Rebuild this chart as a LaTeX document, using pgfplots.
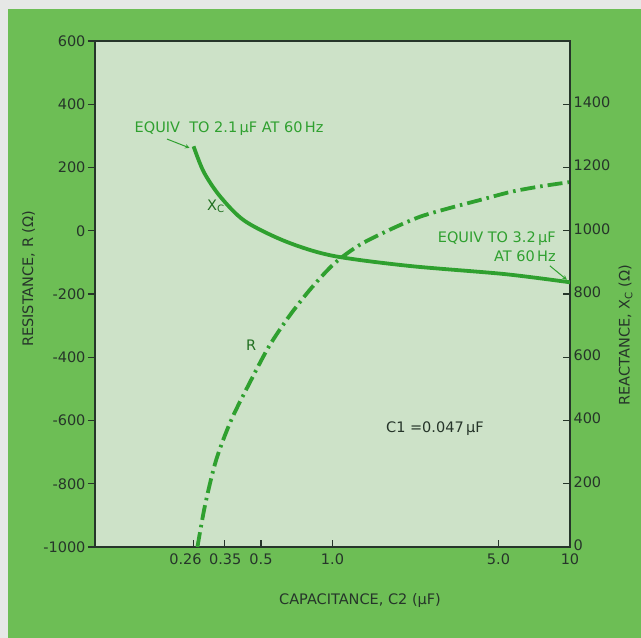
\documentclass[border=0pt]{standalone}
\usepackage{pgfplots}
\pgfplotsset{compat=1.18}
\usepackage{fontspec}
\setmainfont{DejaVu Sans}
\definecolor{outergreen}{HTML}{6DBE55}
\definecolor{plotbg}{HTML}{CDE2C8}
\definecolor{curve}{HTML}{2FA02F}
\definecolor{txt}{HTML}{26352A}
\definecolor{edge}{HTML}{E6E8E6}
\begin{document}
\begin{tikzpicture}[font=\fontsize{14.5}{17}\selectfont\color{txt}]
\path[use as bounding box] (-95pt,-91pt) rectangle (546pt,547pt);
\fill[edge] (-95pt,-91pt) rectangle (546pt,547pt);
\fill[outergreen] (-87pt,-91pt) rectangle (546pt,538pt);
\begin{axis}[
  at={(0pt,0pt)}, anchor=south west,
  scale only axis, width=475pt, height=506pt,
  xmode=log, xmin=0.1, xmax=10,
  ymin=-1000, ymax=600,
  axis background/.style={fill=plotbg},
  axis line style={txt, line width=1.4pt},
  tick pos=left,
  xtick={0.26,0.35,0.5,1,5,10},
  xticklabels={\hspace*{-16pt}0.26,\hspace*{2pt}0.35,0.5,1.0,5.0,10},
  minor xtick={},
  ytick={-1000,-800,-600,-400,-200,0,200,400,600},
  yticklabels={-1000,-800,-600,-400,-200,0,200,400,600},
  xtick align=inside, ytick align=outside,
  major tick length=7pt,
  tick style={txt, line width=1.2pt},
  xticklabel style={yshift=-3pt},
  yticklabel style={xshift=1pt},
  /pgf/number format/assume math mode=true,
  /pgf/number format/1000 sep={},
  xlabel={CAPACITANCE, C2 (μF)},
  xlabel style={at={(axis description cs:0.558,-0.105)}, anchor=center},
  ylabel={RESISTANCE, R (Ω)},
  ylabel style={at={(axis description cs:-0.14,0.53)}, anchor=center},
  clip=false,
]
\addplot[curve, line width=3.8pt, smooth, tension=0.5, dash pattern=on 15pt off 5pt on 2.5pt off 5pt] coordinates {
(0.270,-1000) (0.291,-866) (0.324,-724) (0.375,-598) (0.455,-471) (0.542,-364)
(0.659,-269) (0.815,-181) (1.02,-103) (1.30,-45) (1.74,3) (2.33,44) (3.12,72)
(4.17,97) (5.64,123) (7.47,140) (10,154)
};
\node[text=curve] at (axis cs:0.367,322) {EQUIV\ \ TO 2.1\,μF AT 60\,Hz};
\draw[curve, line width=1pt, -stealth] (axis cs:0.201,290) -- (axis cs:0.25,262);
\node[text=curve, align=right, anchor=east, inner sep=0pt] at (axis cs:8.73,-51) {EQUIV TO 3.2\,μF\\[2pt]AT 60\,Hz};
\draw[curve, line width=1pt, -stealth] (axis cs:8.23,-111) -- (axis cs:9.7,-155);
\node[text=curve!70!black] at (axis cs:0.323,77) {X\textsubscript{C}};
\node[text=curve!70!black] at (axis cs:0.455,-362) {R};
\node at (axis cs:2.70,-627) {C1 =0.047\,μF};
\end{axis}
\begin{axis}[
  at={(0pt,0pt)}, anchor=south west,
  scale only axis, width=475pt, height=506pt,
  xmode=log, xmin=0.1, xmax=10,
  ymin=0, ymax=1600,
  axis x line=none, axis y line*=right,
  axis line style={txt, line width=1.4pt},
  ytick={0,200,400,600,800,1000,1200,1400},
  yticklabels={0,200,400,600,800,1000,1200,1400},
  ytick align=inside,
  major tick length=7pt,
  tick style={txt, line width=1.2pt},
  yticklabel style={yshift=2pt},
  /pgf/number format/assume math mode=true,
  /pgf/number format/1000 sep={},
  ylabel={REACTANCE, X\textsubscript{C} (Ω)},
  ylabel style={at={(axis description cs:1.117,0.419)}, anchor=center},
  clip=false,
]
\addplot[curve, line width=3.8pt, smooth, tension=0.5] coordinates {
(0.26,1267) (0.287,1186) (0.336,1109) (0.427,1031) (0.636,966) (1.0,921)
(2.09,889) (5.3,863) (10,837)
};
\end{axis}
\end{tikzpicture}
\end{document}
